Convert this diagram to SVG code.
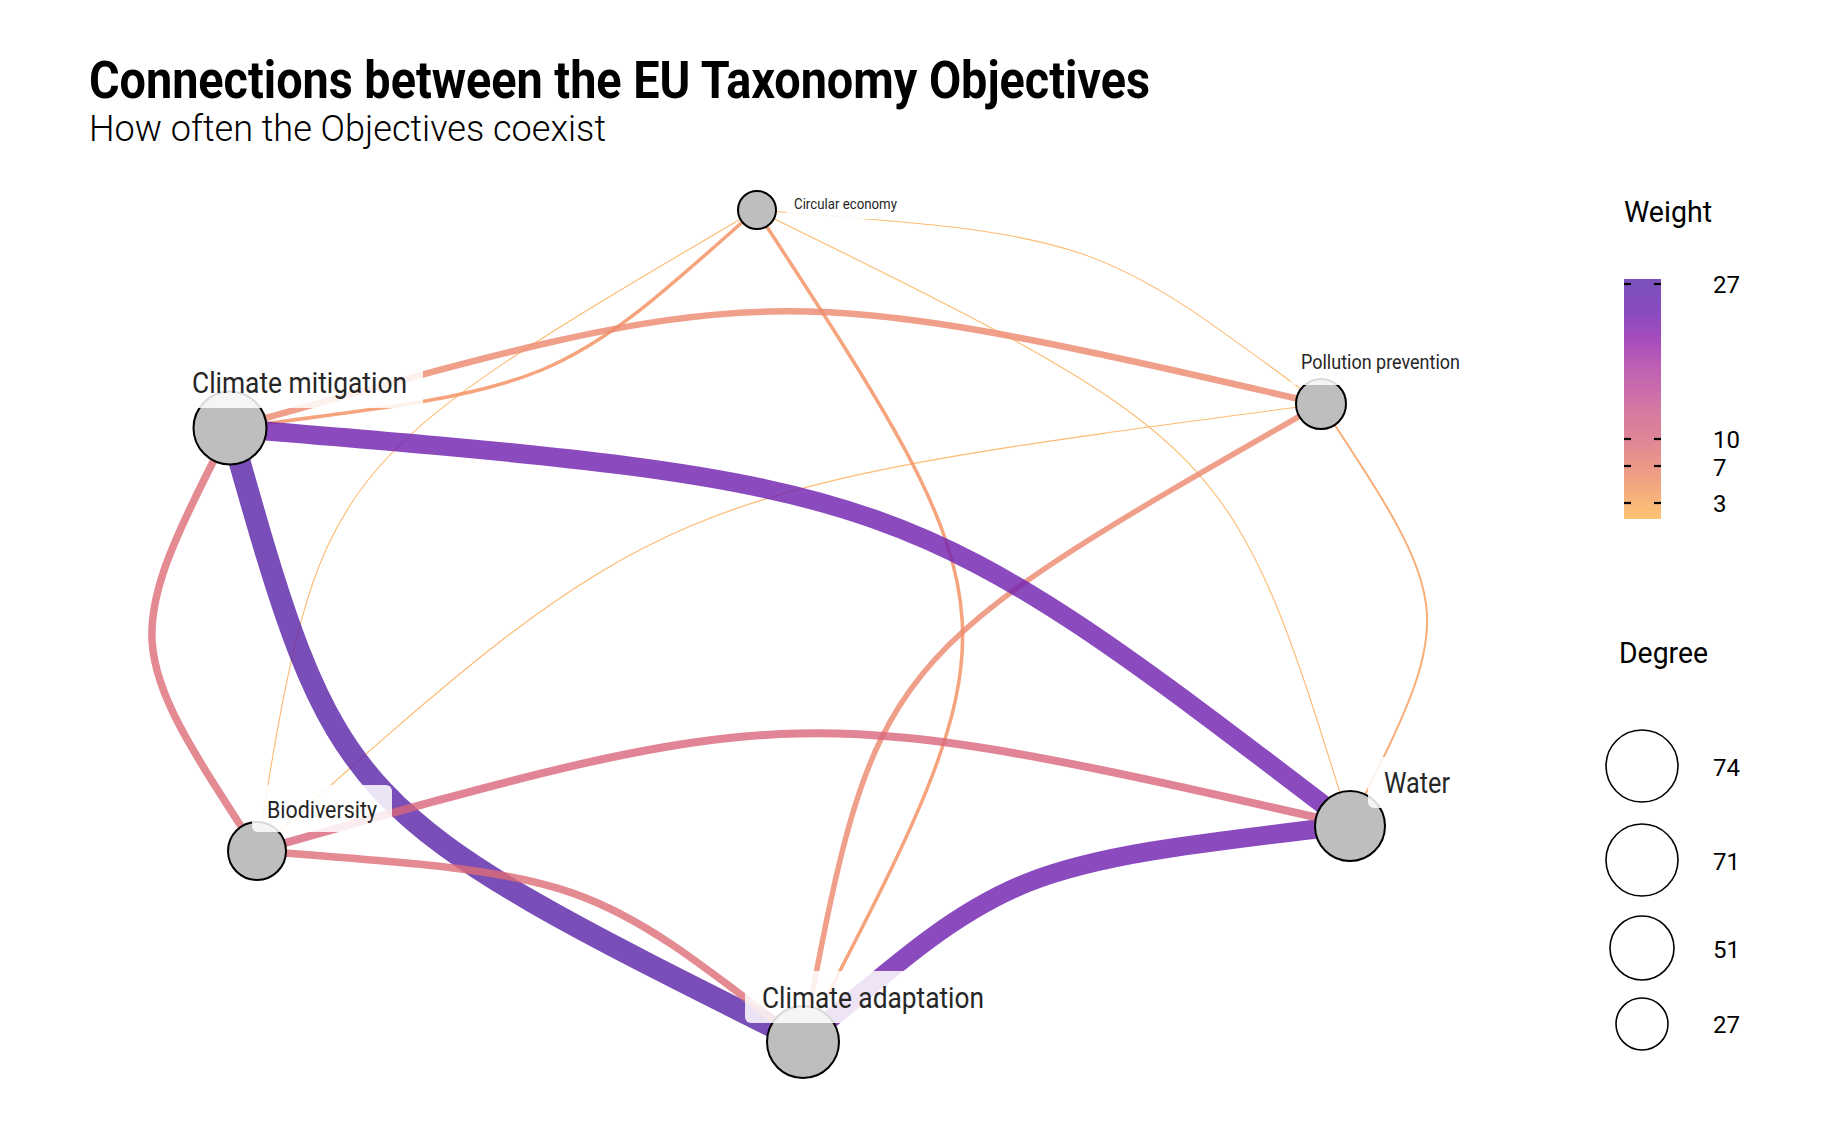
<svg xmlns="http://www.w3.org/2000/svg" width="1830" height="1131" viewBox="0 0 1830 1131">
<style>
  .t{font-family:Roboto,"Liberation Sans",sans-serif}
  .edge{fill:none;stroke-opacity:0.8;stroke-linecap:butt}
  .node circle{fill:#bebebe;stroke:#000;stroke-width:2}
  .lbox{fill:#fff;fill-opacity:0.85}
  .ltext{fill:#262626}
  .leg{fill:#000}
  .key{fill:#fff;stroke:#000;stroke-width:1.6}
  .tick{stroke:#000;stroke-width:2.2}
</style>
<defs>
  <linearGradient id="wgrad" x1="0" y1="0" x2="0" y2="1">
    <stop offset="0" stop-color="#7a51bb"/>
    <stop offset="0.14" stop-color="#8a4bc0"/>
    <stop offset="0.25" stop-color="#a54cbe"/>
    <stop offset="0.36" stop-color="#bd5db5"/>
    <stop offset="0.45" stop-color="#c96bac"/>
    <stop offset="0.56" stop-color="#d57aa0"/>
    <stop offset="0.67" stop-color="#df8696"/>
    <stop offset="0.78" stop-color="#eb9889"/>
    <stop offset="0.88" stop-color="#f4ab7f"/>
    <stop offset="1" stop-color="#fec474"/>
  </linearGradient>
</defs>
<rect width="1830" height="1131" fill="#fff"/>

<!-- titles -->
<text class="t" x="89" y="98" font-size="51" font-weight="700" fill="#000" textLength="1061" lengthAdjust="spacingAndGlyphs">Connections between the EU Taxonomy Objectives</text>
<text class="t" x="89" y="141" font-size="36" font-weight="300" fill="#000" textLength="517" lengthAdjust="spacingAndGlyphs">How often the Objectives coexist</text>

<!-- connectors -->
<g id="edges">
  <path id="e-ce-bio" class="edge" stroke="#fda94c" stroke-width="1.1" d="M756,210 C319.9,465.8 319.9,465.8 257,851"/>
  <path id="e-ce-water" class="edge" stroke="#fda94c" stroke-width="1.1" d="M756,210 C1231.8,443 1231.8,443 1350,825"/>
  <path id="e-ce-pp" class="edge" stroke="#fda94c" stroke-width="1.1" d="M756,210 C1095.5,235.8 1095.5,235.8 1321,404"/>
  <path id="e-pp-bio" class="edge" stroke="#fda94c" stroke-width="1.2" d="M1321,404 C659.3,491.5 659.3,491.5 257,851"/>
  <path id="e-pp-water" class="edge" stroke="#f79a56" stroke-width="2" d="M1321,404 C1457.3,611.2 1457.3,611.2 1350,825"/>
  <path id="e-ce-ca" class="edge" stroke="#f38d5c" stroke-width="3.5" d="M756,210 C1023.1,619.4 1023.1,619.4 803,1042"/>
  <path id="e-ce-cm" class="edge" stroke="#f38d5c" stroke-width="3.5" d="M756,210 C557.8,387 557.8,387 230,428"/>
  <path id="e-cm-pp" class="edge" stroke="#ec886d" stroke-width="6.5" d="M230,428 C767.6,276.7 767.6,276.7 1321,404"/>
  <path id="e-pp-ca" class="edge" stroke="#ec886d" stroke-width="5.5" d="M1321,404 C875.4,658.3 875.4,658.3 803,1042"/>
  <path id="e-cm-water" class="edge" stroke="#6e1eaf" stroke-width="19" d="M230,428 C903.9,483.9 903.9,483.9 1350,825"/>
  <path id="e-ca-water" class="edge" stroke="#6e1eaf" stroke-width="19" d="M803,1042 C1011.7,865.5 1011.7,865.5 1350,825"/>
  <path id="e-cm-ca" class="edge" stroke="#5922a8" stroke-width="22" d="M230,428 C337.7,809.5 337.7,809.5 803,1042"/>
  <path id="e-cm-bio" class="edge" stroke="#dd6d77" stroke-width="7.5" d="M230,428 C121.7,642.8 121.7,642.8 257,851"/>
  <path id="e-bio-water" class="edge" stroke="#d8657c" stroke-width="8" d="M257,851 C795.6,698.7 795.6,698.7 1350,825"/>
  <path id="e-bio-ca" class="edge" stroke="#dd6d77" stroke-width="7.5" d="M257,851 C587,875.3 587,875.3 803,1042"/>
</g>

<!-- nodes -->
<g id="n-cm" class="node"><circle cx="230" cy="428" r="36.5"/></g>
<g id="n-bio" class="node"><circle cx="257" cy="851" r="29"/></g>
<g id="n-ca" class="node"><circle cx="803" cy="1042" r="36"/></g>
<g id="n-water" class="node"><circle cx="1350" cy="826" r="35"/></g>
<g id="n-pp" class="node"><circle cx="1321" cy="404" r="25"/></g>
<g id="n-ce" class="node"><circle cx="757" cy="210" r="19"/></g>

<!-- node labels -->
<g id="l-cm"><rect class="lbox" x="177" y="356" width="246" height="52" rx="6"/>
  <text class="t ltext" x="192" y="393" font-size="29.5" textLength="215" lengthAdjust="spacingAndGlyphs">Climate mitigation</text></g>
<g id="l-ca"><rect class="lbox" x="745" y="971" width="255" height="52" rx="6"/>
  <text class="t ltext" x="762" y="1008" font-size="30" textLength="222" lengthAdjust="spacingAndGlyphs">Climate adaptation</text></g>
<g id="l-water"><rect class="lbox" x="1368" y="757" width="98" height="51" rx="6"/>
  <text class="t ltext" x="1384" y="793" font-size="29.5" textLength="66" lengthAdjust="spacingAndGlyphs">Water</text></g>
<g id="l-bio"><rect class="lbox" x="252" y="785" width="140" height="47" rx="6"/>
  <text class="t ltext" x="267" y="818" font-size="23.5" textLength="110" lengthAdjust="spacingAndGlyphs">Biodiversity</text></g>
<g id="l-pp"><rect class="lbox" x="1290" y="344" width="181" height="41" rx="6"/>
  <text class="t ltext" x="1301" y="369" font-size="19.5" textLength="159" lengthAdjust="spacingAndGlyphs">Pollution prevention</text></g>
<g id="l-ce"><rect class="lbox" x="786" y="191" width="119" height="28" rx="5"/>
  <text class="t ltext" x="794" y="209" font-size="15" textLength="103" lengthAdjust="spacingAndGlyphs">Circular economy</text></g>

<!-- weight legend -->
<g id="legend-weight">
  <text class="t leg" x="1624" y="222" font-size="30" textLength="88" lengthAdjust="spacingAndGlyphs">Weight</text>
  <rect x="1624" y="279" width="37" height="240" fill="url(#wgrad)"/>
  <g class="tick">
    <line x1="1624" y1="284" x2="1631" y2="284"/><line x1="1654" y1="284" x2="1661" y2="284"/>
    <line x1="1624" y1="439" x2="1631" y2="439"/><line x1="1654" y1="439" x2="1661" y2="439"/>
    <line x1="1624" y1="466" x2="1631" y2="466"/><line x1="1654" y1="466" x2="1661" y2="466"/>
    <line x1="1624" y1="503" x2="1631" y2="503"/><line x1="1654" y1="503" x2="1661" y2="503"/>
  </g>
  <text class="t leg" x="1713" y="293" font-size="24">27</text>
  <text class="t leg" x="1713" y="448" font-size="24">10</text>
  <text class="t leg" x="1713" y="476" font-size="24">7</text>
  <text class="t leg" x="1713" y="512" font-size="24">3</text>
</g>

<!-- degree legend -->
<g id="legend-degree">
  <text class="t leg" x="1619" y="663" font-size="30" textLength="89" lengthAdjust="spacingAndGlyphs">Degree</text>
  <circle class="key" cx="1642" cy="766" r="36"/>
  <circle class="key" cx="1642" cy="860" r="36"/>
  <circle class="key" cx="1642" cy="948" r="32"/>
  <circle class="key" cx="1642" cy="1024" r="26"/>
  <text class="t leg" x="1713" y="776" font-size="24">74</text>
  <text class="t leg" x="1713" y="870" font-size="24">71</text>
  <text class="t leg" x="1713" y="958" font-size="24">51</text>
  <text class="t leg" x="1713" y="1033" font-size="24">27</text>
</g>
</svg>
